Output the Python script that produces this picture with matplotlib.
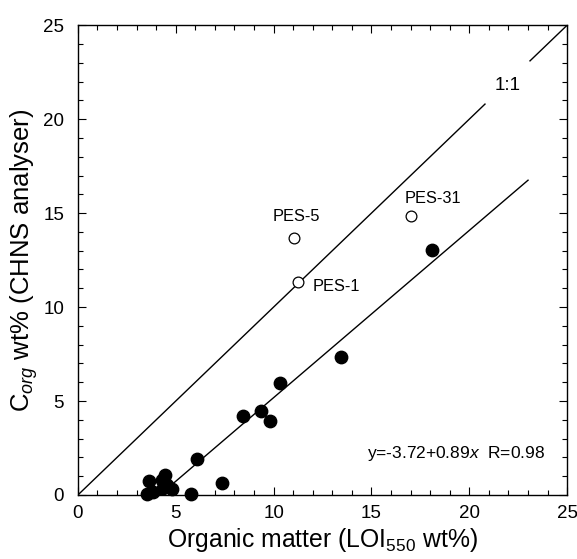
import numpy as np
import matplotlib.pyplot as plt

plt.rcParams['font.family'] = ['Liberation Sans', 'DejaVu Sans']
plt.rcParams['mathtext.fontset'] = 'custom'
plt.rcParams['mathtext.rm'] = 'Liberation Sans'
plt.rcParams['mathtext.it'] = 'Liberation Sans:italic'

# filled points (samples used for regression)
lo_x = [3.51, 3.63, 3.85, 4.31, 4.36, 4.45, 4.53, 4.79, 5.76, 6.07, 7.35,
        8.42, 9.34, 9.82, 10.33, 13.43, 18.08]
lo_y = [0.05, 0.76, 0.18, 0.80, 0.36, 1.06, 0.55, 0.30, 0.05, 1.90, 0.62,
        4.20, 4.47, 3.94, 5.94, 7.32, 13.03]

# open points (outliers)
pes_names = ['PES-5', 'PES-1', 'PES-31']
pes_x = [11.04, 11.26, 17.02]
pes_y = [13.65, 11.35, 14.84]

# regression
intercept = -3.72
slope = 0.89
reg_x = np.array([-intercept / slope, 23.0])

# 1:1 line, broken for its label
one_x1 = [0, 20.8]
one_x2 = [23.1, 25]

fig = plt.figure(figsize=(5.77, 5.59), dpi=100)
ax = fig.add_axes([0.135, 0.1145, 0.848, 0.8405])

ax.plot(one_x1, one_x1, color='black', lw=1)
ax.plot(one_x2, one_x2, color='black', lw=1)
ax.plot(reg_x, intercept + slope * reg_x, color='black', lw=1)

ax.scatter(lo_x, lo_y, s=80, color='black', zorder=3, clip_on=False)
ax.scatter(pes_x, pes_y, s=60, facecolor='white', edgecolor='black',
           linewidth=0.9, zorder=3)

ax.text(11.17, 14.8, pes_names[0], fontsize=11.8, ha='center', va='center')
ax.text(12.0, 11.1, pes_names[1], fontsize=11.8, ha='left', va='center')
ax.text(18.15, 15.8, pes_names[2], fontsize=11.8, ha='center', va='center')
ax.text(21.98, 21.8, '1:1', fontsize=13.5, ha='center', va='center')
ax.text(14.77, 2.23, 'y=-3.72+0.89$x$  R=0.98', fontsize=12.5,
        ha='left', va='center')

ax.set_xlim(0, 25)
ax.set_ylim(0, 25)
ax.set_xticks([0, 5, 10, 15, 20, 25])
ax.set_yticks([0, 5, 10, 15, 20, 25])
ax.set_xticks(np.arange(0, 26, 1), minor=True)
ax.set_yticks(np.arange(0, 26, 1), minor=True)
ax.tick_params(which='both', direction='in', top=True, right=True,
               labelsize=13.5, width=0.8)
ax.tick_params(which='major', length=6)
ax.tick_params(which='minor', length=3.5)
ax.tick_params(axis='x', pad=7)
ax.tick_params(axis='y', pad=10)
for sp in ax.spines.values():
    sp.set_linewidth(1)

ax.set_xlabel('Organic matter (LOI$_{550}$ wt%)', fontsize=17.8, labelpad=3)
ax.set_ylabel('C$_{org}$ wt% (CHNS analyser)', fontsize=18.5, labelpad=2)

fig.savefig('out.png', dpi=100)
